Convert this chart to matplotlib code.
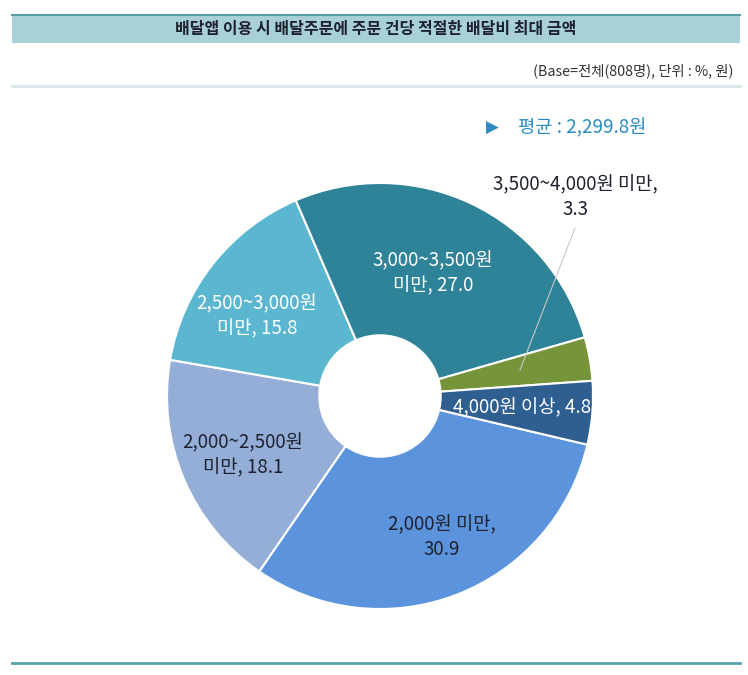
import matplotlib
matplotlib.use("Agg")
import matplotlib.pyplot as plt
from matplotlib.patches import Rectangle

plt.rcParams['font.family'] = ['Noto Sans CJK KR', 'DejaVu Sans']

# ── Data ──────────────────────────────────────────────────────────────────────
categories = ["2,000원 미만", "2,000~2,500원 미만", "2,500~3,000원 미만",
              "3,000~3,500원 미만", "3,500~4,000원 미만", "4,000원 이상"]
values = [30.9, 18.1, 15.8, 27.0, 3.3, 4.8]
label_texts = ["2,000원 미만,\n30.9", "2,000~2,500원\n미만, 18.1", "2,500~3,000원\n미만, 15.8",
               "3,000~3,500원\n미만, 27.0", "3,500~4,000원 미만,\n3.3", "4,000원 이상, 4.8"]
title = "배달앱 이용 시 배달주문에 주문 건당 적절한 배달비 최대 금액"
base_note = "(Base=전체(808명), 단위 : %, 원)"
mean_note = "평균 : 2,299.8원"

# ── Colors ────────────────────────────────────────────────────────────────────
COLORS = ["#5B93DC", "#94AED8", "#5BB7CF", "#2E8398", "#76953A", "#2F5E91"]
TEXT_COLORS = ["#1E2230", "#1E2230", "white", "white", "#1E2230", "white"]
DARK = "#1E2230"
BAR = "#A8D1D6"
BAR_EDGE = "#5A9FA8"
BLUE_TXT = "#2A8CC0"

W, H = 748, 675
fig = plt.figure(figsize=(W / 100, H / 100), dpi=100)
fig.patch.set_facecolor("white")
ax = fig.add_axes([0, 0, 1, 1])


def py(y):
    # pixel y from top -> axes y
    return H - y


# ── Header ────────────────────────────────────────────────────────────────────
ax.add_patch(Rectangle((12, py(43)), 728, 28, facecolor=BAR, edgecolor="none"))
ax.plot([12, 740], [py(15), py(15)], color=BAR_EDGE, lw=1.5)
ax.text(376, py(29), title, ha="center", va="center", fontsize=11.5,
        fontweight="bold", color=DARK)
ax.text(734, py(71), base_note, ha="right", va="center", fontsize=10.3, color="#333333")
ax.plot([12, 740], [py(86), py(86)], color="#D6E8EA", lw=2)
ax.plot([12, 740], [py(663), py(663)], color="#5AA3AC", lw=2)

# ── Donut ─────────────────────────────────────────────────────────────────────
cx, cy, r = 380, py(396), 213
wedges, _ = ax.pie(values, colors=COLORS, startangle=-13.2, counterclock=False,
                   center=(cx, cy), radius=r, frame=True,
                   wedgeprops=dict(width=r * 0.715, edgecolor="white", linewidth=1.5))
ax.set_xlim(0, W)
ax.set_ylim(0, H)
ax.set_aspect("equal")
ax.axis("off")

label_pos = [(442, 537), (243, 455), (257, 316), (433, 273), (575, 197), (522, 408)]
for (lx, ly), txt, tc in zip(label_pos, label_texts, TEXT_COLORS):
    ax.text(lx, py(ly), txt, ha="center", va="center", fontsize=13.5,
            fontweight="medium", color=tc, linespacing=1.25)

# leader line for the small green slice
ax.plot([520, 575], [py(370), py(228)], color="#C8C8C8", lw=0.8)

# ── Mean note ────────────────────────────────────────────────────────────────
ax.text(492, py(128), "▶", ha="center", va="center", fontsize=12,
        color=BLUE_TXT, family=["DejaVu Sans"])
ax.text(518, py(128), mean_note, ha="left", va="center", fontsize=13.5,
        fontweight="medium", color=BLUE_TXT)

plt.savefig("out.png", dpi=100, facecolor=fig.get_facecolor())
